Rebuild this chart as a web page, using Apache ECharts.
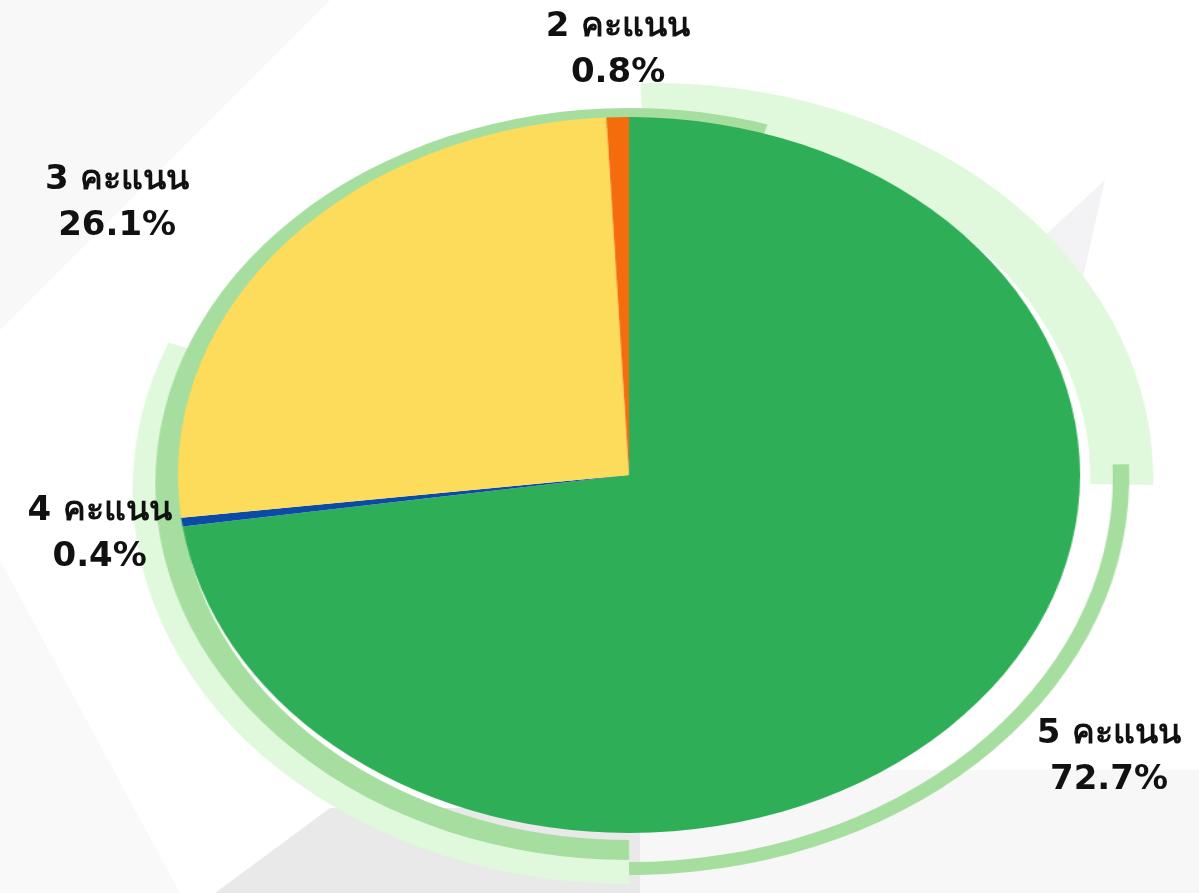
<!DOCTYPE html>
<html>
<head>
<meta charset="utf-8">
<script src="https://cdn.jsdelivr.net/npm/echarts@6/dist/echarts.min.js"></script>
<style>
  html, body { margin: 0; padding: 0; background: #ffffff; }
  .layer { position: absolute; left: 0; top: 0; width: 1199px; height: 893px; }
  #pie { transform: scaleX(1.26); transform-origin: 629px 0; }
  .shape { position: absolute; left: 0; top: 0; width: 1199px; height: 893px; }
</style>
</head>
<body>
<div class="shape" style="background:#f8f8f9;clip-path:polygon(0 0, 330px 0, 0 330px)"></div>
<div class="shape" style="background:#f9f9f9;clip-path:polygon(0 560px, 180px 893px, 0 893px)"></div>
<div class="shape" style="background:#f7f7f7;clip-path:polygon(640px 770px, 1199px 770px, 1199px 893px, 640px 893px)"></div>
<div class="shape" style="background:#e9e9e9;clip-path:polygon(215px 893px, 330px 808px, 640px 808px, 640px 893px)"></div>
<div class="shape" style="background:#f3f3f5;clip-path:polygon(1040px 240px, 1105px 180px, 1080px 290px)"></div>
<div id="pie" class="layer"></div>
<div id="lab" class="layer"></div>
<script>
// ---- data ----
const categories = ['5 คะแนน', '4 คะแนน', '3 คะแนน', '2 คะแนน'];
const values = [72.7, 0.4, 26.1, 0.8];

// ---- styles ----
const sliceColors = ['#2eae57', '#0b4ba6', '#fddc5c', '#f46c0c'];
const PALE = '#e0f9dc';
const MID = '#a6dea0';
const CX = 629, CY = 475, R = 358;

function arcRing(center, radius, startAngle, span, color) {
  return {
    type: 'pie', silent: true, animation: false,
    center: center, radius: radius, startAngle: startAngle, clockwise: true,
    label: { show: false }, labelLine: { show: false },
    itemStyle: { borderWidth: 0 },
    data: [
      { value: span, itemStyle: { color: color } },
      { value: 360 - span, itemStyle: { color: 'rgba(0,0,0,0)' } }
    ]
  };
}

const pieChart = echarts.init(document.getElementById('pie'), null, { renderer: 'canvas' });
pieChart.setOption({
  backgroundColor: 'transparent',
  series: [
    arcRing([650, 478], [345, 395], 91.7, 92.7, PALE),
    arcRing([629, 490], [355, 394], 270, 112, PALE),
    arcRing([629, 478], [384, 397], 2, 92, MID),
    arcRing([629, 484], [356, 376], 270, 197, MID),
    {
      type: 'pie', animation: false,
      center: [CX, CY], radius: R, startAngle: 90, clockwise: true,
      label: { show: false }, labelLine: { show: false },
      itemStyle: { borderWidth: 0 },
      data: categories.map((c, i) => ({ name: c, value: values[i], itemStyle: { color: sliceColors[i] } }))
    }
  ]
});

// label layer (not stretched), same data
const labelGeom = [
  { length: 74, length2: 76 },
  { length: 90, length2: 8 },
  { length: 64, length2: 112 },
  { length: 67, length2: -77 }
];
const labChart = echarts.init(document.getElementById('lab'), null, { renderer: 'canvas' });
labChart.setOption({
  backgroundColor: 'transparent',
  series: [{
    type: 'pie', animation: false, silent: true, avoidLabelOverlap: false,
    center: [CX, CY], radius: R, startAngle: 90, clockwise: true,
    itemStyle: { color: 'rgba(0,0,0,0)', borderWidth: 0 },
    label: {
      show: true, position: 'outer', alignTo: 'none',
      formatter: p => '{a|' + p.name + '}\n{a|' + p.value + '%}',
      rich: {
        a: { fontFamily: '"DejaVu Sans", "Noto Sans", sans-serif', fontWeight: 'bold', fontSize: 34, lineHeight: 46, color: '#111111', align: 'center' }
      }
    },
    data: categories.map((c, i) => ({
      name: c, value: values[i],
      labelLine: { show: false, length: labelGeom[i].length, length2: labelGeom[i].length2 }
    }))
  }]
});
</script>
</body>
</html>
